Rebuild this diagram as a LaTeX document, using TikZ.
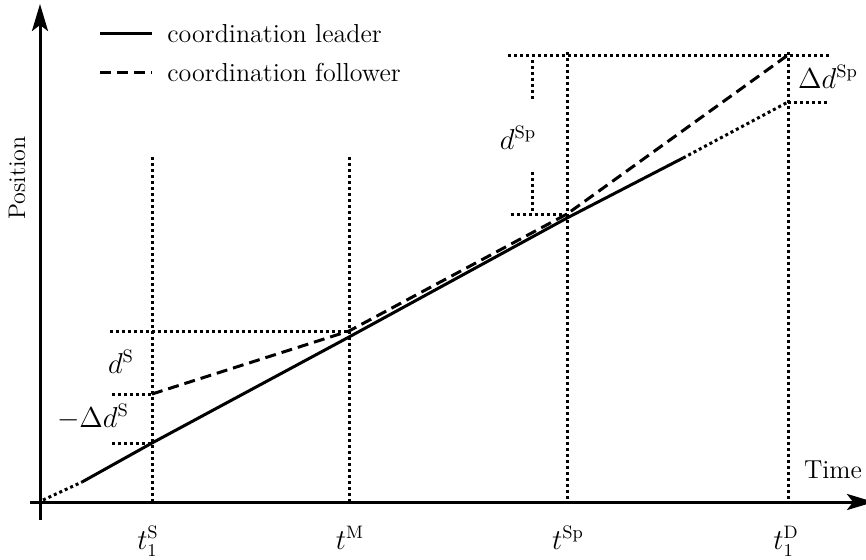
\documentclass[tikz,border=0pt]{standalone}
\usetikzlibrary{arrows.meta}
\begin{document}
\begin{tikzpicture}[x=0.5pt,y=-0.5pt,
  ln/.style={line width=1.5pt},
  axis/.style={ln,-{Stealth[length=13.5pt,width=8pt,inset=3pt]}},
  dotln/.style={ln,dash pattern=on 1.5pt off 1.5pt},
  dashln/.style={ln,dash pattern=on 5.5pt off 3pt},
  lbl/.style={font=\fontsize{13.5}{16}\selectfont,inner sep=0pt},
  legtxt/.style={font=\fontsize{13}{15}\selectfont,anchor=base west,inner sep=0pt}]
\useasboundingbox (0,0) rectangle (866,559);
\clip (0,0) rectangle (866,559);
% axes
\coordinate (ybot) at (40,520);
\coordinate (ytop) at (40,4);
\coordinate (xl) at (30,502);
\coordinate (xr) at (874,502);
\draw[axis] (ybot) -- (ytop);
\draw[axis] (xl) -- (xr);
% vertical dotted lines
\coordinate (vS1) at (152,157);  \coordinate (vS0) at (152,502);
\coordinate (vM1) at (349,157);  \coordinate (vM0) at (349,502);
\coordinate (vSp1) at (567,52);  \coordinate (vSp0) at (567,502);
\coordinate (vD1) at (788,52);   \coordinate (vD0) at (788,502);
\draw[dotln] (vS1) -- (vS0);
\draw[dotln] (vM1) -- (vM0);
\draw[dotln] (vSp1) -- (vSp0);
\draw[dotln] (vD1) -- (vD0);
% horizontal dotted lines
\coordinate (h1a) at (508,55);  \coordinate (h1b) at (830,55);
\coordinate (h2a) at (788,102); \coordinate (h2b) at (830,102);
\coordinate (h3a) at (511,214); \coordinate (h3b) at (567,214);
\coordinate (h4a) at (110,331); \coordinate (h4b) at (349,331);
\coordinate (h5a) at (112,394); \coordinate (h5b) at (152,394);
\coordinate (h6a) at (112,443); \coordinate (h6b) at (152,443);
\draw[dotln] (h1a) -- (h1b);
\draw[dotln] (h2a) -- (h2b);
\draw[dotln] (h3a) -- (h3b);
\draw[dotln] (h4a) -- (h4b);
\draw[dotln] (h5a) -- (h5b);
\draw[dotln] (h6a) -- (h6b);
% dSp ticks
\coordinate (k1a) at (532,60);  \coordinate (k1b) at (532,101);
\coordinate (k2a) at (532,172); \coordinate (k2b) at (532,213);
\draw[dotln] (k1a) -- (k1b);
\draw[dotln] (k2a) -- (k2b);
% leader
\coordinate (L0) at (43,500);
\coordinate (L1) at (82,482);
\coordinate (L2) at (152,443);
\coordinate (L3) at (349,337);
\coordinate (L4) at (567,218);
\coordinate (L5) at (683,158);
\coordinate (L6) at (788,102);
\draw[dotln] (L0) -- (L1);
\draw[ln] (L1) -- (L2) -- (L3) -- (L4) -- (L5);
\draw[dotln] (L5) -- (L6);
% follower
\coordinate (F1) at (152,394);
\coordinate (F2) at (349,331);
\coordinate (F3) at (567,214);
\coordinate (F4) at (788,55);
\draw[dashln] (F1) -- (F2) -- (F3) -- (F4);
% legend
\coordinate (lg1a) at (100,33); \coordinate (lg1b) at (152,33);
\coordinate (lg2a) at (100,72); \coordinate (lg2b) at (152,72);
\draw[ln] (lg1a) -- (lg1b);
\draw[dashln] (lg2a) -- (lg2b);
\node[legtxt] (leg1) at (167,42) {coordination leader};
\node[legtxt] (leg2) at (167,81) {coordination follower};
% axis labels
\node[font=\fontsize{12}{14}\selectfont,rotate=90,inner sep=0pt] (ylab) at (17,178) {Position};
\node[font=\fontsize{13}{15}\selectfont,inner sep=0pt,anchor=base] (xlab) at (833,478) {Time};
% tick labels
\node[lbl,anchor=base] (tS) at (148,549) {$t_1^{\mathrm{S}}$};
\node[lbl,anchor=base] (tM) at (350,549) {$t^{\mathrm{M}}$};
\node[lbl,anchor=base] (tSp) at (568,549) {$t^{\mathrm{Sp}}$};
\node[lbl,anchor=base] (tD) at (786,549) {$t_1^{\mathrm{D}}$};
% distance labels
\node[lbl] (dS) at (121,362) {$d^{\mathrm{S}}$};
\node[lbl] (ddS) at (93,417) {$-\Delta d^{\mathrm{S}}$};
\node[lbl] (dSp) at (518,138) {$d^{\mathrm{Sp}}$};
\node[lbl] (ddSp) at (828,77) {$\Delta d^{\mathrm{Sp}}$};
\end{tikzpicture}
\end{document}
